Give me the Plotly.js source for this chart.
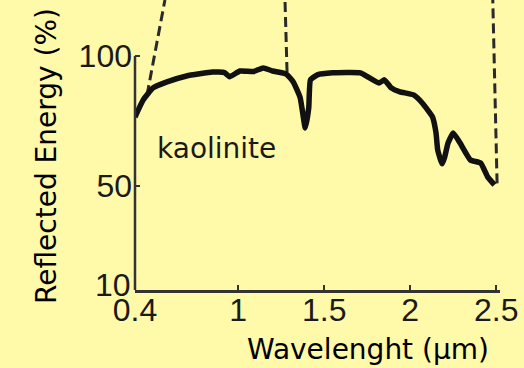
<!DOCTYPE html>
<html>
<head>
<meta charset="utf-8">
<script src="https://cdn.plot.ly/plotly-3.0.1.min.js"></script>
<style>html,body{margin:0;padding:0;background:#FFF9AA;}#chart{width:524px;height:368px;}</style>
</head>
<body>
<div id="chart"></div>
<script>
// Kaolinite reflectance spectrum
const wavelength = [0.40, 0.447, 0.505, 0.586, 0.70, 0.85, 0.92, 0.95, 1.01, 1.09, 1.145, 1.20, 1.28, 1.32, 1.36, 1.39, 1.41, 1.42, 1.46, 1.55, 1.71, 1.755, 1.82, 1.85, 1.89, 1.94, 2.02, 2.07, 2.13, 2.15, 2.16, 2.185, 2.20, 2.22, 2.25, 2.29, 2.35, 2.41, 2.45, 2.49];
const reflectance = [76.5, 83.0, 87.7, 90.0, 92.3, 93.8, 93.6, 92.0, 94.2, 94.0, 95.4, 94.2, 93.0, 90.0, 84.0, 72.3, 80.0, 90.8, 92.7, 93.5, 93.5, 91.9, 89.6, 90.8, 87.7, 86.2, 85.0, 81.9, 76.5, 70.4, 63.8, 58.5, 61.0, 66.5, 70.4, 66.5, 60.0, 58.8, 53.5, 50.4];

// Dashed guide lines
const dash1X = [0.47, 0.574];
const dash1Y = [85.0, 121.5];
const dash2X = [1.284, 1.272];
const dash2Y = [93.8, 121.5];
const dash3X = [2.505, 2.48];
const dash3Y = [51.0, 121.5];

const xTickVals = [0.4, 1, 1.5, 2, 2.5];
const xTickText = ["0.4", "1", "1.5", "2", "2.5"];
const yTickVals = [50, 100];
const yTickText = ["50", "100"];
const yBaseLabel = "10";

const bg = "#FFF9AA";
const ink = "#1a1a1a";
const dashStyle = {color: "#2a2a2a", width: 3, dash: "10px,5px"};
const tickFont = {family: "Liberation Sans, Arial, sans-serif", size: 32, color: ink};

const traces = [
  {x: dash1X, y: dash1Y, mode: "lines", line: dashStyle, hoverinfo: "skip", cliponaxis: false},
  {x: dash2X, y: dash2Y, mode: "lines", line: dashStyle, hoverinfo: "skip", cliponaxis: false},
  {x: dash3X, y: dash3Y, mode: "lines", line: dashStyle, hoverinfo: "skip", cliponaxis: false},
  {x: wavelength, y: reflectance, mode: "lines", line: {color: "#111", width: 5.5, shape: "spline", smoothing: 0.4}, cliponaxis: false}
];

const layout = {
  width: 524, height: 368,
  margin: {l: 135, r: 24, t: 0, b: 78, pad: 0},
  paper_bgcolor: bg, plot_bgcolor: bg,
  showlegend: false,
  xaxis: {
    range: [0.4, 2.522], showgrid: false, zeroline: false,
    showline: true, linecolor: "#333", linewidth: 2.5,
    ticks: "inside", ticklen: 5, tickwidth: 2, tickcolor: "#333",
    tickvals: xTickVals, ticktext: xTickText, ticklabelstandoff: -10,
    tickfont: tickFont
  },
  yaxis: {
    range: [10, 121.5], showgrid: false, zeroline: false,
    showline: false,
    ticks: "inside", ticklen: 5, tickwidth: 2, tickcolor: "#333",
    tickvals: yTickVals, ticktext: yTickText, ticklabelstandoff: 2,
    tickfont: tickFont
  },
  shapes: [
    {type: "line", xref: "paper", yref: "y", x0: 0, x1: 0, y0: 10, y1: 100, line: {color: "#333", width: 2.5}}
  ],
  annotations: [
    {text: "kaolinite", x: 0.871, y: 64.5, xref: "x", yref: "y", xanchor: "center", yanchor: "middle", showarrow: false,
     font: {family: "DejaVu Sans, sans-serif", size: 28, color: ink}},
    {text: "Wavelenght (μm)", showarrow: false, xref: "paper", yref: "paper",
     font: {family: "DejaVu Sans, sans-serif", size: 28, color: "#000"}},
    {text: "Reflected Energy (%)", textangle: -90, showarrow: false, xref: "paper", yref: "paper",
     font: {family: "DejaVu Sans, sans-serif", size: 28, color: "#000"}},
    {text: yBaseLabel, showarrow: false, xref: "paper", yref: "y", x: 0, y: 10, xanchor: "right", yanchor: "bottom",
     xshift: -3, yshift: -14, font: tickFont, borderpad: 0}
  ]
};
// place titles in paper coordinates from pixel positions
const plotW = 524 - 135 - 24, plotH = 368 - 0 - 78;
layout.annotations[1].x = (368 - 135) / plotW;
layout.annotations[1].y = (290 - 349) / plotH;
layout.annotations[1].xanchor = "center"; layout.annotations[1].yanchor = "middle";
layout.annotations[2].x = (46 - 135) / plotW;
layout.annotations[2].y = (290 - 156) / plotH;
layout.annotations[2].xanchor = "center"; layout.annotations[2].yanchor = "middle";

Plotly.newPlot("chart", traces, layout, {displayModeBar: false, staticPlot: true});
</script>
</body>
</html>
